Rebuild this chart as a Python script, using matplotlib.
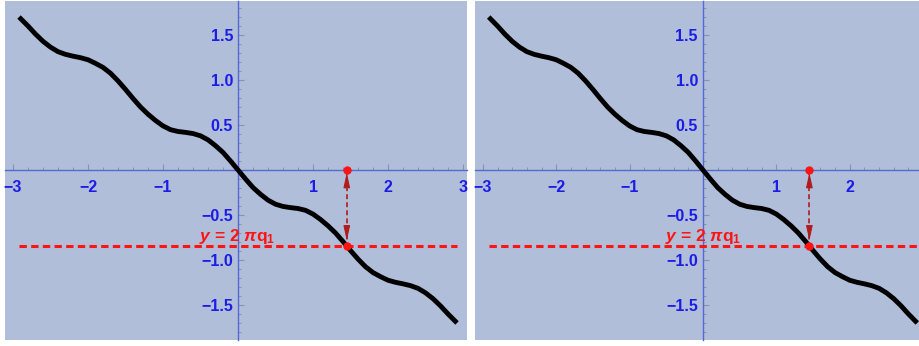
import matplotlib
matplotlib.use("Agg")
import matplotlib.pyplot as plt
from matplotlib.ticker import MultipleLocator, FixedLocator

# -------- DATA --------
curve_x = [-2.92, -2.8, -2.7, -2.6, -2.5, -2.4, -2.3, -2.2, -2.1, -2.0, -1.9, -1.8, -1.7,
           -1.6, -1.5, -1.4, -1.3, -1.2, -1.1, -1.0, -0.9, -0.8, -0.7, -0.6, -0.5, -0.4,
           -0.3, -0.2, -0.1, 0.0, 0.1, 0.2, 0.3, 0.4, 0.5, 0.6, 0.7, 0.8, 0.9, 1.0, 1.1,
           1.2, 1.3, 1.4, 1.5, 1.6, 1.7, 1.8, 1.9, 2.0, 2.1, 2.2, 2.3, 2.4, 2.5, 2.6, 2.7,
           2.8, 2.92]
curve_y = [1.70, 1.60, 1.51, 1.43, 1.365, 1.315, 1.285, 1.265, 1.248, 1.225, 1.185, 1.14,
           1.075, 0.99, 0.895, 0.795, 0.70, 0.62, 0.55, 0.49, 0.448, 0.428, 0.418, 0.405,
           0.38, 0.335, 0.27, 0.195, 0.10, 0.0, -0.10, -0.195, -0.27, -0.335, -0.38,
           -0.405, -0.418, -0.428, -0.448, -0.49, -0.55, -0.62, -0.70, -0.795, -0.895,
           -0.99, -1.075, -1.14, -1.185, -1.225, -1.248, -1.265, -1.285, -1.315, -1.365,
           -1.43, -1.51, -1.60, -1.70]

level_y = -0.845          # y = 2 pi q1
level_x = [-2.92, 2.92]
q_x = 1.45                # where the curve meets the level
x_tick_labels = [-3, -2, -1, 1, 2, 3]
y_tick_labels = [-1.5, -1.0, -0.5, 0.5, 1.0, 1.5]

# -------- STYLE --------
BG = "#b0bed9"
AXIS_BLUE = "#5468d8"
LABEL_BLUE = "#1c1ce6"
RED = "#ff1414"
DARK_RED = "#b01c1c"
TICK_GRAY = "#8a92aa"

plt.rcParams["font.family"] = ["Liberation Sans", "DejaVu Sans"]
plt.rcParams["mathtext.fontset"] = "custom"
plt.rcParams["mathtext.rm"] = "Liberation Sans:bold"
plt.rcParams["mathtext.bf"] = "Liberation Sans:bold"
plt.rcParams["mathtext.it"] = "Liberation Sans:italic:bold"
plt.rcParams["lines.scale_dashes"] = False


def draw_panel(ax):
    ax.set_facecolor(BG)
    ax.set_xlim(-3.107, 3.053)
    ax.set_ylim(-1.889, 1.878)

    # axes through the origin
    for side in ["top", "right"]:
        ax.spines[side].set_visible(False)
    for side in ["left", "bottom"]:
        ax.spines[side].set_position("zero")
        ax.spines[side].set_color(AXIS_BLUE)
        ax.spines[side].set_linewidth(1.0)

    ax.xaxis.set_major_locator(FixedLocator(x_tick_labels))
    ax.xaxis.set_minor_locator(MultipleLocator(0.2))
    ax.yaxis.set_major_locator(FixedLocator(y_tick_labels))
    ax.yaxis.set_minor_locator(MultipleLocator(0.1))
    ax.set_xticklabels([f"{v:g}".replace("-", "\u2212") for v in x_tick_labels])
    ax.set_yticklabels([f"{v:.1f}".replace("-", "\u2212") for v in y_tick_labels])

    ax.tick_params(axis="x", which="major", direction="in", length=4.5, width=0.8,
                   color=TICK_GRAY, labelcolor=LABEL_BLUE, labelsize=11.5, pad=7)
    ax.tick_params(axis="y", which="major", direction="in", length=4.5, width=0.8,
                   color=TICK_GRAY, labelcolor=LABEL_BLUE, labelsize=11.5, pad=3.6)
    ax.tick_params(which="minor", direction="in", length=2.5, width=0.7, color=TICK_GRAY)
    for lab in ax.get_xticklabels() + ax.get_yticklabels():
        lab.set_fontweight("bold")

    # the curve
    ax.plot(curve_x, curve_y, color="black", lw=3.5, solid_capstyle="butt",
            solid_joinstyle="round", zorder=3)

    # horizontal level line
    ax.plot(level_x, [level_y, level_y], color=RED, lw=2.2, dashes=(5.3, 3.1), zorder=4)

    # vertical dashed arrow between the axis and the curve
    ax.plot([q_x, q_x], [0, level_y], color=DARK_RED, lw=1.2, dashes=(3.6, 2.2), zorder=4)
    head = dict(arrowstyle="-|>,head_length=0.9,head_width=0.2", color=DARK_RED,
                lw=0.8, shrinkA=0, shrinkB=0, mutation_scale=10)
    ax.annotate("", xy=(q_x, -0.03), xytext=(q_x, -0.17), arrowprops=head, zorder=5)
    ax.annotate("", xy=(q_x, level_y + 0.06), xytext=(q_x, level_y + 0.2),
                arrowprops=head, zorder=5)

    # dots
    ax.plot([q_x], [0], "o", color=RED, ms=5, zorder=6)
    ax.plot([q_x], [level_y], "o", color=RED, ms=5, zorder=6)

    ax.text(-0.52, -0.79, r"$y$ = 2 $\pi\mathrm{q}_1$", color=RED, fontsize=12.5,
            fontweight="bold", ha="left", va="baseline", zorder=6)


# -------- FIGURE --------
W, H = 920, 346
fig = plt.figure(figsize=(W / 100, H / 100), dpi=100)
fig.patch.set_facecolor("white")

ax_left = fig.add_axes([5 / W, (H - 340) / H, 462 / W, 339 / H])
ax_right = fig.add_axes([475 / W, (H - 340) / H, 452 / W, 339 / H])

draw_panel(ax_left)
draw_panel(ax_right)

fig.savefig("out.png", dpi=100)
